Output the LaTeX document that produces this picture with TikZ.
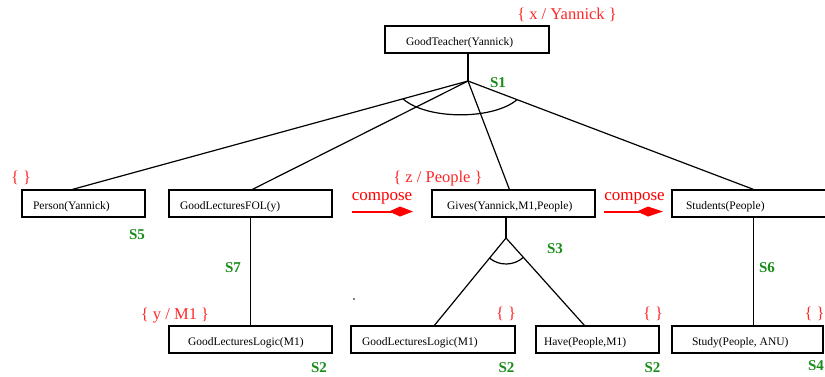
\documentclass[tikz,border=0pt]{standalone}
\usepackage{fontspec}
\setmainfont{Liberation Serif}
\usetikzlibrary{calc}
\definecolor{lblred}{RGB}{255,40,40}
\definecolor{comred}{RGB}{255,0,0}
\definecolor{lblgreen}{RGB}{25,140,25}
\newcommand\bxt[3]{\makebox[#1pt][l]{\hspace{#2pt}\raisebox{0pt}[11pt][0pt]{#3}}}
\begin{document}
\begin{tikzpicture}[x=1pt,y=-1pt,
  box/.style={draw, line width=1.2pt, minimum height=27pt, inner xsep=0pt, inner ysep=0pt,
    font=\fontsize{11.5}{13}\selectfont},
  sub/.style={text=lblred, font=\fontsize{16.5}{18}\selectfont, anchor=base, inner sep=0pt},
  slab/.style={text=lblgreen, font=\fontsize{15}{17}\selectfont\bfseries, anchor=base, inner sep=0pt},
  comp/.style={text=comred, font=\fontsize{17}{19}\selectfont, anchor=base, inner sep=0pt},
  edge/.style={line width=1.2pt},
  comparrow/.style={comred, line width=2pt}]
\useasboundingbox (0,0) rectangle (825,376);

% boxes
\node[box] (gt) at (467,39.5) {\bxt{164}{21}{GoodTeacher(Yannick)}};
\node[box] (person) at (83.5,203.5) {\bxt{123}{11}{Person(Yannick)}};
\node[box] (fol) at (250.5,203.5) {\bxt{163}{11}{GoodLecturesFOL(y)}};
\node[box] (gives) at (513.5,203.5) {\bxt{163}{15}{Gives(Yannick,M1,People)}};
\node[box] (students) at (753.5,203.5) {\bxt{163}{14}{Students(People)}};
\node[box] (gll1) at (250.5,339.5) {\bxt{163}{19}{GoodLecturesLogic(M1)}};
\node[box] (gll2) at (433,339.5) {\bxt{164}{11}{GoodLecturesLogic(M1)}};
\node[box] (have) at (597.5,339.5) {\bxt{123}{8}{Have(People,M1)}};
\node[box] (study) at (747.5,339.5) {\bxt{151}{20}{Study(People, ANU)}};

% hubs
\coordinate (h1) at (468,81);
\coordinate (h2) at (506,238);

% connectors
\draw[edge] (gt.south -| h1) -- (h1);
\draw[edge] (h1) -- ($(person.north west)+(51,0)$);
\draw[edge] (h1) -- ($(fol.north west)+(84,0)$);
\draw[edge] (h1) -- ($(gives.north west)+(78,0)$);
\draw[edge] (h1) -- (students.north);
\draw[edge] (fol.south) -- (gll1.north);
\draw[edge] (gives.south -| h2) -- (h2);
\draw[edge] (h2) -- ($(gll2.north west)+(84,0)$);
\draw[edge] (h2) -- ($(have.north west)+(49,0)$);
\draw[edge] (students.south) -- (students.south |- study.north);

% and-arcs
\draw[edge] (403,98.9) .. controls (427,120) and (493,120) .. (517,99.7);
\draw[edge] (h2) ++(-129:26pt) arc[start angle=-129, end angle=-48, radius=26pt];

% compose arrows
\draw[comparrow] (352,211.5) -- (392,211.5);
\fill[comred] (389,211.5) -- (400,206.5) -- (413,211.5) -- (400,216.5) -- cycle;
\draw[comparrow] (604,211.5) -- (640,211.5);
\fill[comred] (637,211.5) -- (648,206.5) -- (663,211.5) -- (648,216.5) -- cycle;
\node[comp] (c1) at (382,200) {compose};
\node[comp] (c2) at (634.5,200) {compose};

% substitutions
\node[sub] (sx) at (567,19) {\{ x / Yannick \}};
\node[sub] (sp) at (21,182) {\{ \}};
\node[sub] (sz) at (438,182) {\{ z / People \}};
\node[sub] (sy) at (175,319) {\{ y / M1 \}};
\node[sub] (sm) at (506,318) {\{ \}};
\node[sub] (sh) at (653,318) {\{ \}};
\node[sub] (ss) at (814.5,318) {\{ \}};

% step labels
\node[slab] (s1) at (498,87) {S1};
\node[slab] (s5) at (137,239) {S5};
\node[slab] (s3) at (555,253) {S3};
\node[slab] (s7) at (233,272) {S7};
\node[slab] (s6) at (767,272) {S6};
\node[slab] (s2a) at (319,372) {S2};
\node[slab] (s2b) at (506.5,372) {S2};
\node[slab] (s2c) at (652.5,372) {S2};
\node[slab] (s4) at (816,370) {S4};

% stray dot
\fill (354,299) circle (0.9pt);
\end{tikzpicture}
\end{document}
